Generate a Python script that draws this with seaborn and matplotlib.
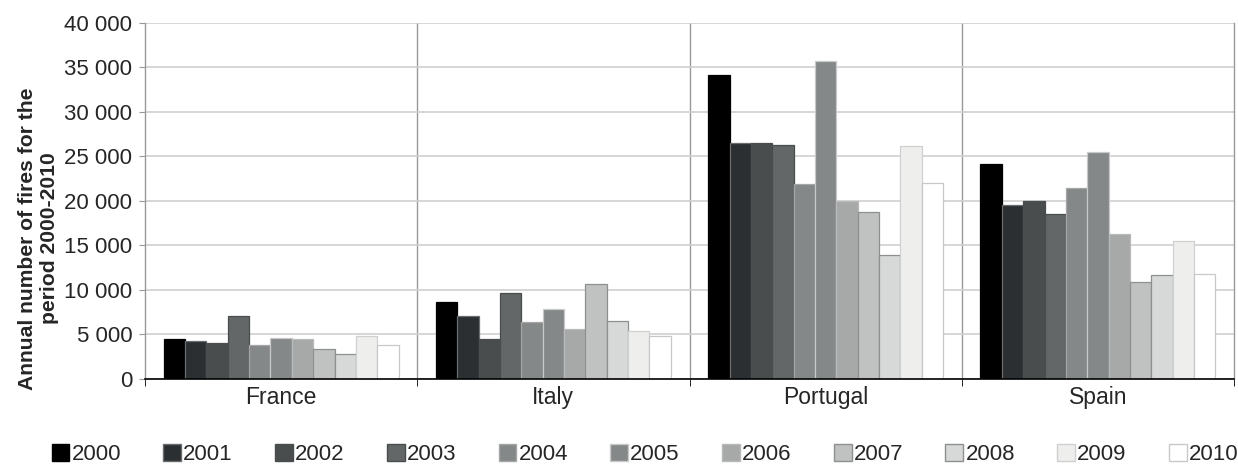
import seaborn as sns
import pandas as pd
import matplotlib.pyplot as plt
from matplotlib.patches import Patch
from matplotlib.ticker import FuncFormatter

countries = ['France', 'Italy', 'Portugal', 'Spain']
years = ['2000', '2001', '2002', '2003', '2004', '2005',
         '2006', '2007', '2008', '2009', '2010']

france = [4500, 4230, 4080, 7070, 3780, 4600, 4490, 3400, 2810, 4790, 3780]
italy = [8610, 7040, 4490, 9620, 6360, 7820, 5610, 10630, 6510, 5350, 4790]
portugal = [34160, 26500, 26500, 26240, 21860, 35700, 19980, 18750, 13890, 26120, 21970]
spain = [24140, 19530, 19980, 18560, 21410, 25450, 16280, 10890, 11640, 15490, 11790]

fills = ['#000000', '#2b2f31', '#4a4d4e', '#646767', '#858888', '#858888',
         '#a7a9a9', '#c0c1c1', '#d7d8d8', '#eeeeed', '#ffffff']
edges = ['#000000', '#6a6c6d', '#4a4d4e', '#4a4d4e', '#a5a7a7', '#c8c9c9',
         '#b8b9b9', '#8e9090', '#8e9090', '#cfd0d0', '#c8c8c8']

rows = []
for country, vals in zip(countries, [france, italy, portugal, spain]):
    for yr, v in zip(years, vals):
        rows.append(dict(country=country, year=yr, fires=v))
df = pd.DataFrame(rows)

sns.set_style('white')
plt.rcParams['font.family'] = ['Liberation Sans', 'DejaVu Sans']

fig = plt.figure(figsize=(12.38, 4.67), dpi=100)
ax = fig.add_axes([0.1171, 0.1884, 0.8797, 0.7630])

sns.barplot(
    data=df, x='country', y='fires', hue='year',
    palette=fills, width=0.863, gap=0, ax=ax,
    legend=False, saturation=1,
)
for cont, ec in zip(ax.containers, edges):
    for p in cont:
        p.set_edgecolor(ec)
        p.set_linewidth(0.9)

ax.set_xlim(-0.5, 3.5)
ax.set_ylim(0, 40000)
ax.set_yticks(range(0, 40001, 5000))
ax.yaxis.set_major_formatter(FuncFormatter(lambda v, _: f'{int(v):,}'.replace(',', ' ')))
ax.yaxis.grid(True, color='#d0d0d0', linewidth=1.2)
ax.set_axisbelow(True)
for b in [0.5, 1.5, 2.5]:
    ax.axvline(b, color='#999999', linewidth=1.0, zorder=0.5)

ax.set_xticks(range(4))
ax.set_xticklabels(countries, fontsize=16.5)
ax.tick_params(axis='x', length=0, pad=5)
ax.tick_params(axis='y', labelsize=16, length=4, color='#999999', left=True, pad=5)
# boundary ticks on the bottom axis
ax.set_xticks([-0.5, 0.5, 1.5, 2.5, 3.5], minor=True)
ax.tick_params(axis='x', which='minor', length=5, color='black', direction='out', bottom=True)

for s in ['left', 'right']:
    ax.spines[s].set_color('#999999')
    ax.spines[s].set_linewidth(1.0)
ax.spines['top'].set_visible(False)
ax.spines['bottom'].set_color('black')
ax.spines['bottom'].set_linewidth(1.2)

ax.set_xlabel('')
ax.set_ylabel('Annual number of fires for the\nperiod 2000-2010', fontsize=15.2,
              fontweight='bold')
ax.yaxis.set_label_coords(-0.079, 0.395)

handles = [Patch(facecolor=f, edgecolor=e, linewidth=1.0) for f, e in zip(fills, edges)]
fig.legend(handles, years, loc='center', bbox_to_anchor=(0.521, 0.026), ncol=11,
           frameon=False, fontsize=16, handlelength=0.8, handleheight=0.8,
           handletextpad=0.1, columnspacing=1.9)

fig.savefig('out.png', dpi=100)
